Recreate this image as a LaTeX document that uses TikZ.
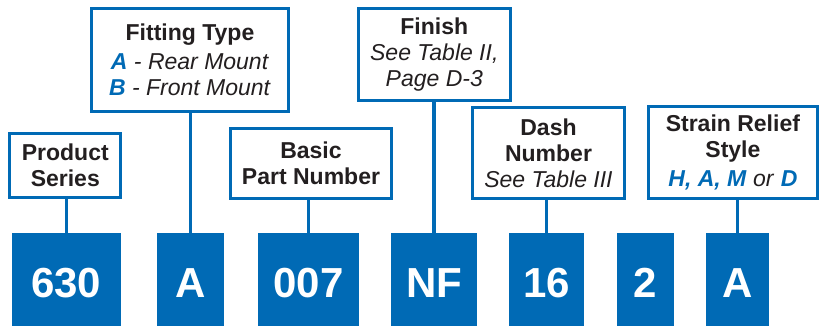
\documentclass[tikz,border=0pt]{standalone}
\usepackage{fontspec}
\setmainfont{Liberation Sans}
\usetikzlibrary{positioning}
\definecolor{partblue}{HTML}{006AB5}
\definecolor{inkgray}{HTML}{231F20}
\newcommand{\partcode}[1]{\textcolor{partblue}{\textbf{\textit{#1}}}}

\begin{document}
\begin{tikzpicture}[x=1pt,y=1pt]
  \useasboundingbox (0,0) rectangle (819,325);
  \tikzstyle{CodeStyle}=[fill=partblue,text=white,anchor=north,inner sep=0pt,
    minimum height=100pt,font=\fontsize{42}{42}\selectfont\bfseries]
  \tikzstyle{LabelStyle}=[draw=partblue,line width=3pt,fill=white,text=inkgray,
    align=center,inner sep=0pt,font=\fontsize{23}{26}\selectfont]
  \tikzstyle{LinkStyle}=[draw=partblue,line width=3.2pt]

  % part number blocks
  \node[CodeStyle,minimum width=109pt]  (series) at (66.2,92)  {630};
  \node[CodeStyle,minimum width=67.6pt] (fitting) at (190.5,92) {A};
  \node[CodeStyle,minimum width=101pt]  (basic) at (308.5,92)  {007};
  \node[CodeStyle,minimum width=86pt]   (finish) at (434,92)   {NF};
  \node[CodeStyle,minimum width=75pt]   (dash) at (546.5,92)   {16};
  \node[CodeStyle,minimum width=57.3pt] (two) at (645.3,92)    {2};
  \node[CodeStyle,minimum width=63.3pt] (relief) at (737.7,92) {A};

  % captions
  \node[LabelStyle,minimum width=111pt,minimum height=64pt] (seriesLbl) at (65.3,159.5)
    {\textbf{Product}\\\textbf{Series}};
  \node[LabelStyle,minimum width=197pt,minimum height=102.4pt] (fittingLbl) at (190,265)
    {\textbf{Fitting Type}\\[3pt]\partcode{A}\textit{ - Rear Mount}\\\partcode{B}\textit{ - Front Mount}};
  \node[LabelStyle,minimum width=161pt,minimum height=70pt] (basicLbl) at (311,161.5)
    {\textbf{Basic}\\\textbf{Part Number}};
  \node[LabelStyle,minimum width=151.7pt,minimum height=91.4pt] (finishLbl) at (434.3,270.5)
    {\textbf{Finish}\\\textit{See Table II,}\\\textit{Page D-3}};
  \node[LabelStyle,minimum width=152pt,minimum height=91pt] (dashLbl) at (548.5,172)
    {\textbf{Dash}\\\textbf{Number}\\\textit{See Table III}};
  \node[LabelStyle,minimum width=169.3pt,minimum height=92pt] (reliefLbl) at (732.9,172.5)
    {\textbf{Strain Relief}\\\textbf{Style}\\[3pt]\partcode{H, A, M}\textit{ or }\partcode{D}};

  % leaders
  \draw[LinkStyle] (series.north) -- (series.north |- seriesLbl.south);
  \draw[LinkStyle] (fitting.north) -- (fitting.north |- fittingLbl.south);
  \draw[LinkStyle] (basic.north) -- (basic.north |- basicLbl.south);
  \draw[LinkStyle] (finish.north) -- (finish.north |- finishLbl.south);
  \draw[LinkStyle] (dash.north) -- (dash.north |- dashLbl.south);
  \draw[LinkStyle] (relief.north) -- (relief.north |- reliefLbl.south);
\end{tikzpicture}
\end{document}
